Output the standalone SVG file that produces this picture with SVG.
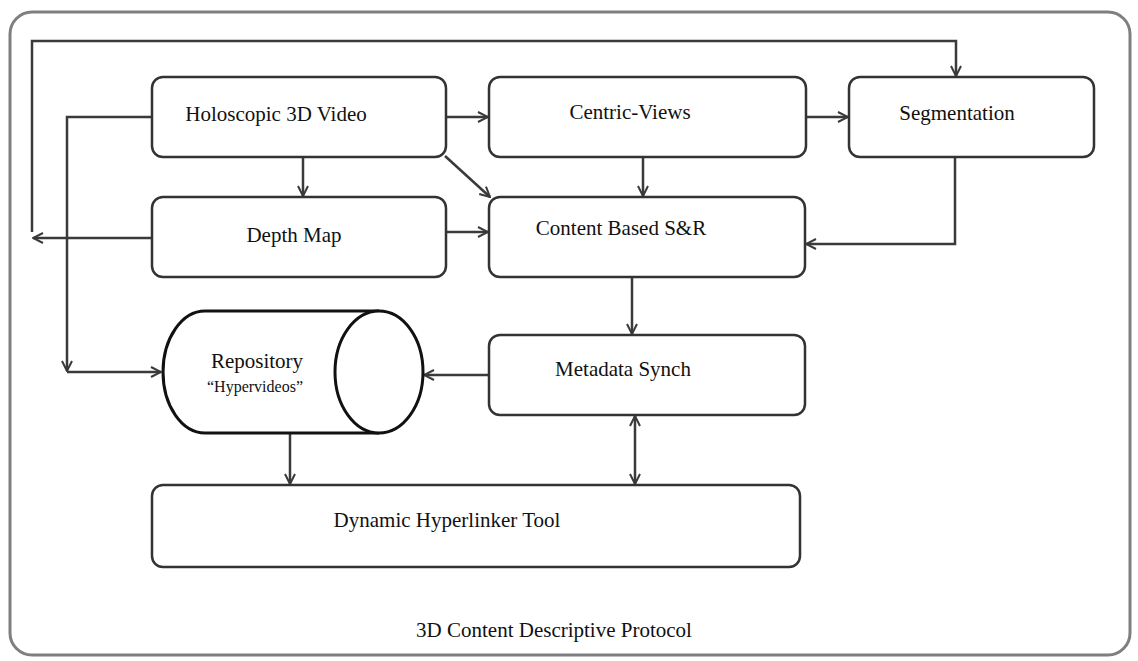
<svg xmlns="http://www.w3.org/2000/svg" width="1138" height="661" viewBox="0 0 1138 661">
  <style>
    .box { fill: #ffffff; stroke: #333333; stroke-width: 2.5; }
    .frame { fill: #ffffff; stroke: #7f7f7f; stroke-width: 3; }
    .cyl { fill: #ffffff; stroke: #111111; stroke-width: 3; }
    .lbl { font-family: "Liberation Serif", "Times New Roman", serif; font-size: 21px; fill: #111111; text-anchor: middle; }
    .sub { font-size: 16px; }
    .conn path, .conn line { fill: none; stroke: #3a3a3a; stroke-width: 2.5; }
  </style>
  <defs>
    <marker id="arr" viewBox="0 0 12 12" refX="11" refY="6" markerWidth="12" markerHeight="12" markerUnits="userSpaceOnUse" orient="auto-start-reverse">
      <path d="M1,1 L11,6 L1,11" fill="none" stroke="#3a3a3a" stroke-width="2"/>
    </marker>
  </defs>

  <!-- outer frame -->
  <rect class="frame" x="10" y="12" width="1120" height="643" rx="22"/>

  <!-- connectors -->
  <g id="connectors" class="conn">
    <!-- loop round the top into Segmentation -->
    <path d="M32,232 V41 H956 V76" marker-end="url(#arr)"/>
    <!-- Depth Map out to the left -->
    <path d="M152,238 H33" marker-end="url(#arr)"/>
    <!-- Holoscopic down the left side to Repository -->
    <path d="M152,117 H67 V371" marker-end="url(#arr)"/>
    <path d="M67,372 H161" marker-end="url(#arr)"/>
    <!-- Holoscopic to Centric-Views -->
    <path d="M446,117 H488" marker-end="url(#arr)"/>
    <!-- Centric-Views to Segmentation -->
    <path d="M806,117 H848" marker-end="url(#arr)"/>
    <!-- Holoscopic to Depth Map -->
    <path d="M303,157 V196" marker-end="url(#arr)"/>
    <!-- Holoscopic diagonal to Content Based S&R -->
    <path d="M445,156 L490,197" marker-end="url(#arr)"/>
    <!-- Centric-Views to Content Based S&R -->
    <path d="M643,157 V196" marker-end="url(#arr)"/>
    <!-- Depth Map to Content Based S&R -->
    <path d="M446,232 H488" marker-end="url(#arr)"/>
    <!-- Segmentation back to Content Based S&R -->
    <path d="M955,157 V244 H806" marker-end="url(#arr)"/>
    <!-- Content Based S&R to Metadata Synch -->
    <path d="M632,277 V334" marker-end="url(#arr)"/>
    <!-- Metadata Synch to Repository -->
    <path d="M489,375 H424" marker-end="url(#arr)"/>
    <!-- Repository to Dynamic Hyperlinker Tool -->
    <path d="M290,433 V484" marker-end="url(#arr)"/>
    <!-- Metadata Synch <-> Dynamic Hyperlinker Tool -->
    <path d="M635,416 V484" marker-start="url(#arr)" marker-end="url(#arr)"/>
  </g>

  <g id="holoscopic">
    <rect class="box" x="152" y="77" width="294" height="80" rx="11"/>
    <text class="lbl" x="276" y="121">Holoscopic 3D Video</text>
  </g>

  <g id="centric-views">
    <rect class="box" x="489" y="77" width="317" height="80" rx="11"/>
    <text class="lbl" x="630" y="119">Centric-Views</text>
  </g>

  <g id="segmentation">
    <rect class="box" x="849" y="77" width="245" height="80" rx="11"/>
    <text class="lbl" x="957" y="120">Segmentation</text>
  </g>

  <g id="depth-map">
    <rect class="box" x="152" y="197" width="294" height="80" rx="11"/>
    <text class="lbl" x="294" y="242">Depth Map</text>
  </g>

  <g id="content-sr">
    <rect class="box" x="489" y="197" width="316" height="80" rx="11"/>
    <text class="lbl" x="621" y="235">Content Based S&amp;R</text>
  </g>

  <g id="metadata-synch">
    <rect class="box" x="489" y="335" width="316" height="80" rx="11"/>
    <text class="lbl" x="623" y="376">Metadata Synch</text>
  </g>

  <g id="repository">
    <path class="cyl" d="M379,311 H205 A42,61 0 0 0 205,433 H379"/>
    <ellipse class="cyl" cx="379" cy="372" rx="44" ry="61"/>
    <text class="lbl" x="257" y="368">Repository</text>
    <text class="lbl sub" x="255" y="392">“Hypervideos”</text>
  </g>

  <g id="hyperlinker">
    <rect class="box" x="152" y="485" width="648" height="82" rx="11"/>
    <text class="lbl" x="447" y="527">Dynamic Hyperlinker Tool</text>
  </g>

  <g id="protocol">
    <text class="lbl" x="554" y="637">3D Content Descriptive Protocol</text>
  </g>
</svg>
